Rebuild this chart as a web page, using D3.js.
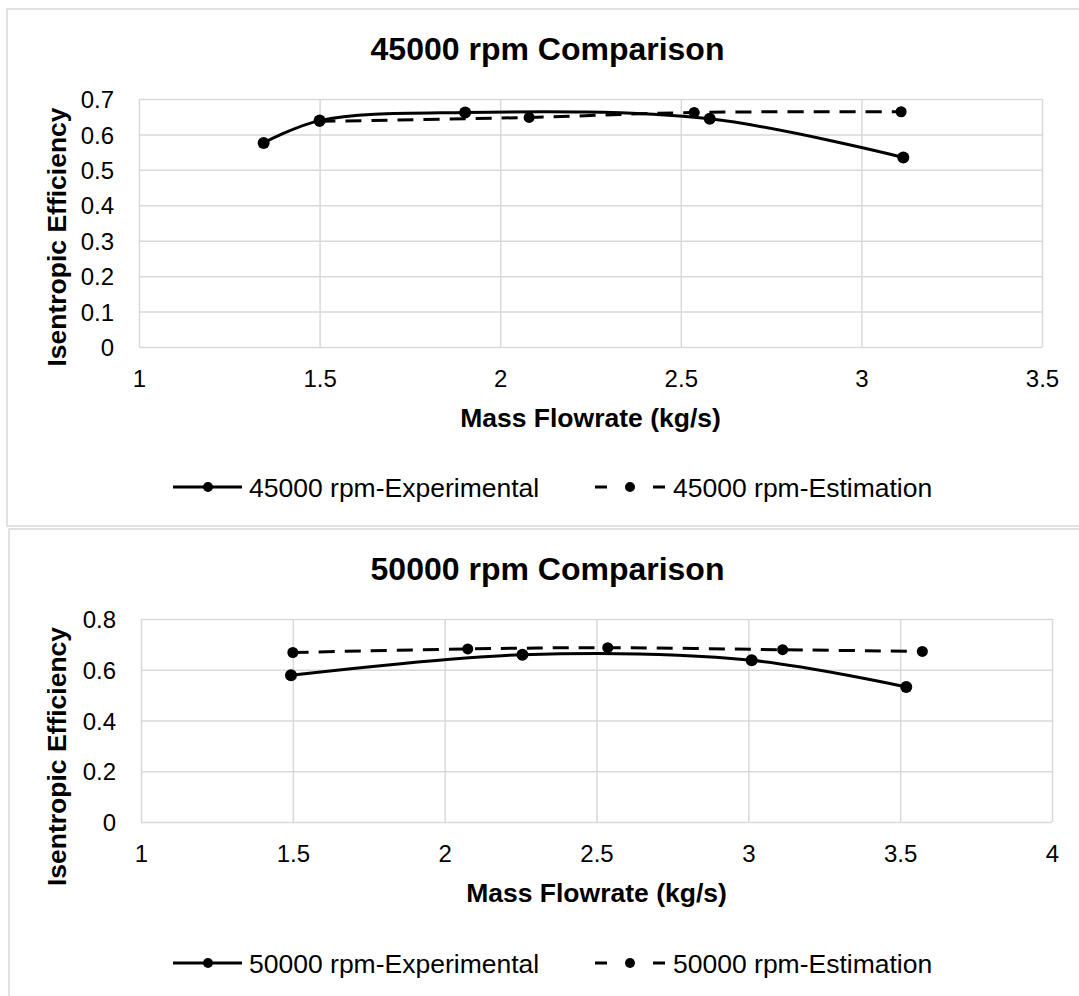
<!DOCTYPE html>
<meta charset="utf-8">
<style>
  body { margin: 0; background: #fff; }
  svg { font-family: "Liberation Sans", Arial, sans-serif; }
  .grid line { stroke: #d9d9d9; stroke-width: 1.5; }
  .grid .domain { display: none; }
  .ticks text { font-size: 24px; fill: #000; }
  .ticks .domain, .ticks line { display: none; }
</style>
<svg id="chart" width="1079" height="996"></svg>

<script src="https://cdn.jsdelivr.net/npm/d3@7"></script>
<script>
// values
const flow45Exp = [1.345, 1.5, 1.903, 2.58, 3.116];
const eff45Exp  = [0.576, 0.639, 0.662, 0.644, 0.535];
const flow45Est = [1.5, 2.08, 2.537, 3.11];
const eff45Est  = [0.637, 0.648, 0.662, 0.664];
const xTicks45 = [1, 1.5, 2, 2.5, 3, 3.5];
const yTicks45 = [0, 0.1, 0.2, 0.3, 0.4, 0.5, 0.6, 0.7];

const flow50Exp = [1.494, 2.256, 3.011, 3.52];
const eff50Exp  = [0.578, 0.659, 0.637, 0.532];
const flow50Est = [1.5, 2.076, 2.537, 3.113, 3.573];
const eff50Est  = [0.668, 0.682, 0.687, 0.679, 0.672];
const xTicks50 = [1, 1.5, 2, 2.5, 3, 3.5, 4];
const yTicks50 = [0, 0.2, 0.4, 0.6, 0.8];

const svg = d3.select("#chart");

function drawChart(c) {
  const g = svg.append("g");

  // chart border (runs past the right edge of the picture)
  g.append("rect")
    .attr("x", c.box[0]).attr("y", c.box[1])
    .attr("width", c.box[2]).attr("height", c.box[3])
    .attr("fill", "#fff").attr("stroke", "#d9d9d9").attr("stroke-width", 1.5);

  const x = d3.scaleLinear().domain(d3.extent(c.xTicks)).range([c.left, c.right]);
  const y = d3.scaleLinear().domain(d3.extent(c.yTicks)).range([c.bottom, c.top]);

  // gridlines
  g.append("g").attr("class", "grid")
    .attr("transform", `translate(0,${c.bottom})`)
    .call(d3.axisBottom(x).tickValues(c.xTicks).tickSize(c.top - c.bottom).tickFormat(""));
  g.append("g").attr("class", "grid")
    .attr("transform", `translate(${c.left},0)`)
    .call(d3.axisLeft(y).tickValues(c.yTicks).tickSize(c.left - c.right).tickFormat(""));

  // tick labels
  g.append("g").attr("class", "ticks")
    .attr("transform", `translate(0,${c.bottom})`)
    .call(d3.axisBottom(x).tickValues(c.xTicks).tickSize(0).tickPadding(23).tickFormat(d3.format("")));
  g.append("g").attr("class", "ticks")
    .attr("transform", `translate(${c.left},0)`)
    .call(d3.axisLeft(y).tickValues(c.yTicks).tickSize(0).tickPadding(25).tickFormat(d3.format("")))
    .selectAll("text").attr("dy", "0.36em");

  // titles
  g.append("text")
    .attr("x", 547.5).attr("y", c.titleY)
    .attr("text-anchor", "middle")
    .attr("font-size", 32).attr("font-weight", "bold")
    .text(c.title);
  g.append("text")
    .attr("x", (c.left + c.right) / 2).attr("y", c.xTitleY)
    .attr("text-anchor", "middle")
    .attr("font-size", 26.5).attr("font-weight", "bold")
    .text("Mass Flowrate (kg/s)");
  g.append("text")
    .attr("transform", `translate(66,${(c.top + c.bottom) / 2 + c.yTitleShift}) rotate(-90)`)
    .attr("text-anchor", "middle")
    .attr("font-size", 26.5).attr("font-weight", "bold")
    .text("Isentropic Efficiency");

  const line = d3.line()
    .x(d => x(d[0])).y(d => y(d[1]))
    .curve(d3.curveCatmullRom.alpha(0.5));

  const series = [
    { pts: d3.zip(c.estX, c.estY), dash: "16,10", r: 5.5 },
    { pts: d3.zip(c.expX, c.expY), dash: null, r: 6 }
  ];
  series.forEach(s => {
    g.append("path")
      .attr("d", line(s.pts))
      .attr("fill", "none")
      .attr("stroke", "#000")
      .attr("stroke-width", 3)
      .attr("stroke-dasharray", s.dash);
    g.append("g").selectAll("circle")
      .data(s.pts)
      .join("circle")
        .attr("cx", d => x(d[0]))
        .attr("cy", d => y(d[1]))
        .attr("r", s.r)
        .attr("fill", "#000");
  });

  // legend
  const ly = c.legendY;
  g.append("line")
    .attr("x1", 173).attr("x2", 242).attr("y1", ly).attr("y2", ly)
    .attr("stroke", "#000").attr("stroke-width", 3);
  g.append("circle").attr("cx", 208).attr("cy", ly).attr("r", 5).attr("fill", "#000");
  g.append("text")
    .attr("x", 249).attr("y", ly).attr("dy", "0.36em")
    .attr("font-size", 26.5)
    .text(c.rpm + " rpm-Experimental");

  g.append("line")
    .attr("x1", 595).attr("x2", 667).attr("y1", ly).attr("y2", ly)
    .attr("stroke", "#000").attr("stroke-width", 3)
    .attr("stroke-dasharray", "12,46");
  g.append("circle").attr("cx", 630).attr("cy", ly).attr("r", 5).attr("fill", "#000");
  g.append("text")
    .attr("x", 673).attr("y", ly).attr("dy", "0.36em")
    .attr("font-size", 26.5)
    .text(c.rpm + " rpm-Estimation");
}

drawChart({
  box: [7, 9, 1081, 517],
  title: "45000 rpm Comparison", rpm: "45000",
  left: 139, right: 1042, top: 99, bottom: 347,
  xTicks: xTicks45, yTicks: yTicks45,
  expX: flow45Exp, expY: eff45Exp, estX: flow45Est, estY: eff45Est,
  titleY: 60, xTitleY: 426.5, legendY: 487, yTitleShift: 14
});

drawChart({
  box: [9, 529, 1080, 480],
  title: "50000 rpm Comparison", rpm: "50000",
  left: 141, right: 1052, top: 619, bottom: 822,
  xTicks: xTicks50, yTicks: yTicks50,
  expX: flow50Exp, expY: eff50Exp, estX: flow50Est, estY: eff50Est,
  titleY: 579.5, xTitleY: 901.5, legendY: 963, yTitleShift: 36
});
</script>
